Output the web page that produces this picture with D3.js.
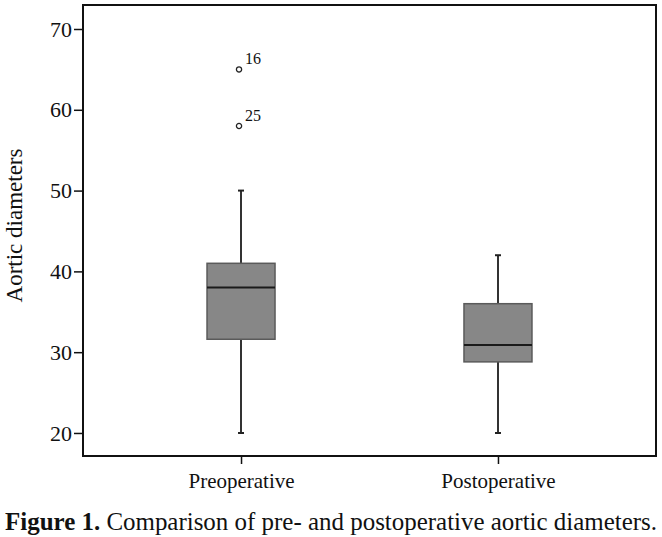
<!DOCTYPE html>
<html>
<head>
<meta charset="utf-8">
<script src="https://cdn.jsdelivr.net/npm/d3@7"></script>
<style>
  body { margin: 0; background: #fff; }
  svg { display: block; }
  text { font-family: "Liberation Serif", "Times New Roman", Tinos, Times, serif; fill: #111; }
</style>
</head>
<body>
<div id="chart"></div>
<script>
// categories and box summary values
const categories = ["Preoperative", "Postoperative"];
const whiskerLow = [20, 20];
const q1 = [31.6, 28.8];
const median = [38, 30.9];
const q3 = [41, 36];
const whiskerHigh = [50, 42];

// outliers
const outlierGroup = ["Preoperative", "Preoperative"];
const outlierValues = [65, 58];
const outlierLabels = ["16", "25"];

const yTicks = [20, 30, 40, 50, 60, 70];

const width = 662, height = 537;
const frame = { left: 83, right: 656, top: 5, bottom: 456 };
const serif = '"Liberation Serif", "Times New Roman", Tinos, Times, serif';

const svg = d3.select("#chart").append("svg")
  .attr("width", width)
  .attr("height", height);

const y = d3.scaleLinear()
  .domain([17.15, 72.97])
  .range([frame.bottom, frame.top]);

const x = d3.scalePoint()
  .domain(categories)
  .range([frame.left, frame.right])
  .padding(0.615);

const boxWidth = 68;

// y axis
const yAxis = svg.append("g")
  .attr("transform", `translate(${frame.left},0)`)
  .call(d3.axisLeft(y).tickValues(yTicks).tickSize(9).tickPadding(2).tickFormat(d3.format("d")));
yAxis.select(".domain").remove();
yAxis.selectAll("line").attr("stroke", "#111").attr("stroke-width", 1.5);
yAxis.selectAll("text").style("font-size", "22px").attr("fill", "#111")
  .style("font-family", serif);

// x axis
const xAxis = svg.append("g")
  .attr("transform", `translate(0,${frame.bottom})`)
  .call(d3.axisBottom(x).tickSize(8).tickPadding(9));
xAxis.select(".domain").remove();
xAxis.selectAll("line").attr("stroke", "#111").attr("stroke-width", 1.5);
xAxis.selectAll("text").style("font-size", "21px").attr("fill", "#111")
  .style("font-family", serif);

// y axis title
svg.append("text")
  .attr("transform", `translate(22,${(frame.top + frame.bottom) / 2 - 5}) rotate(-90)`)
  .attr("text-anchor", "middle")
  .style("font-size", "23px")
  .style("font-family", serif)
  .text("Aortic diameters");

// boxes
const boxes = svg.append("g")
  .selectAll("g")
  .data(categories)
  .join("g");

// whiskers
boxes.append("line")
  .attr("x1", d => x(d)).attr("x2", d => x(d))
  .attr("y1", (d, i) => y(whiskerLow[i]))
  .attr("y2", (d, i) => y(q1[i]))
  .attr("stroke", "#333").attr("stroke-width", 2);
boxes.append("line")
  .attr("x1", d => x(d)).attr("x2", d => x(d))
  .attr("y1", (d, i) => y(q3[i]))
  .attr("y2", (d, i) => y(whiskerHigh[i]))
  .attr("stroke", "#333").attr("stroke-width", 2);

// caps
boxes.append("line")
  .attr("x1", d => x(d) - 3).attr("x2", d => x(d) + 3)
  .attr("y1", (d, i) => y(whiskerLow[i]))
  .attr("y2", (d, i) => y(whiskerLow[i]))
  .attr("stroke", "#222").attr("stroke-width", 2);
boxes.append("line")
  .attr("x1", d => x(d) - 3).attr("x2", d => x(d) + 3)
  .attr("y1", (d, i) => y(whiskerHigh[i]))
  .attr("y2", (d, i) => y(whiskerHigh[i]))
  .attr("stroke", "#222").attr("stroke-width", 2);

// box body
boxes.append("rect")
  .attr("x", d => x(d) - boxWidth / 2)
  .attr("width", boxWidth)
  .attr("y", (d, i) => y(q3[i]))
  .attr("height", (d, i) => y(q1[i]) - y(q3[i]))
  .attr("fill", "#878787")
  .attr("stroke", "#5a5a5a")
  .attr("stroke-width", 1.5);

// median
boxes.append("line")
  .attr("x1", d => x(d) - boxWidth / 2).attr("x2", d => x(d) + boxWidth / 2)
  .attr("y1", (d, i) => y(median[i]))
  .attr("y2", (d, i) => y(median[i]))
  .attr("stroke", "#1a1a1a").attr("stroke-width", 2);

// outliers
const outliers = svg.append("g")
  .selectAll("g")
  .data(outlierValues)
  .join("g")
  .attr("transform", (d, i) => `translate(${x(outlierGroup[i]) - 2},${y(d)})`);
outliers.append("circle")
  .attr("r", 2.6)
  .attr("fill", "none")
  .attr("stroke", "#222")
  .attr("stroke-width", 1.3);
outliers.append("text")
  .attr("x", 6)
  .attr("y", -5)
  .style("font-size", "16px")
  .style("font-family", serif)
  .text((d, i) => outlierLabels[i]);

// frame
svg.append("rect")
  .attr("x", frame.left)
  .attr("y", frame.top)
  .attr("width", frame.right - frame.left)
  .attr("height", frame.bottom - frame.top)
  .attr("fill", "none")
  .attr("stroke", "#111")
  .attr("stroke-width", 2);

// caption
const caption = svg.append("text")
  .attr("x", 5)
  .attr("y", 530)
  .style("font-size", "25px")
  .style("font-family", serif)
  .attr("textLength", 652)
  .attr("lengthAdjust", "spacingAndGlyphs");
caption.append("tspan").style("font-weight", "bold").text("Figure 1.");
caption.append("tspan").text(" Comparison of pre- and postoperative aortic diameters.");
</script>
</body>
</html>
